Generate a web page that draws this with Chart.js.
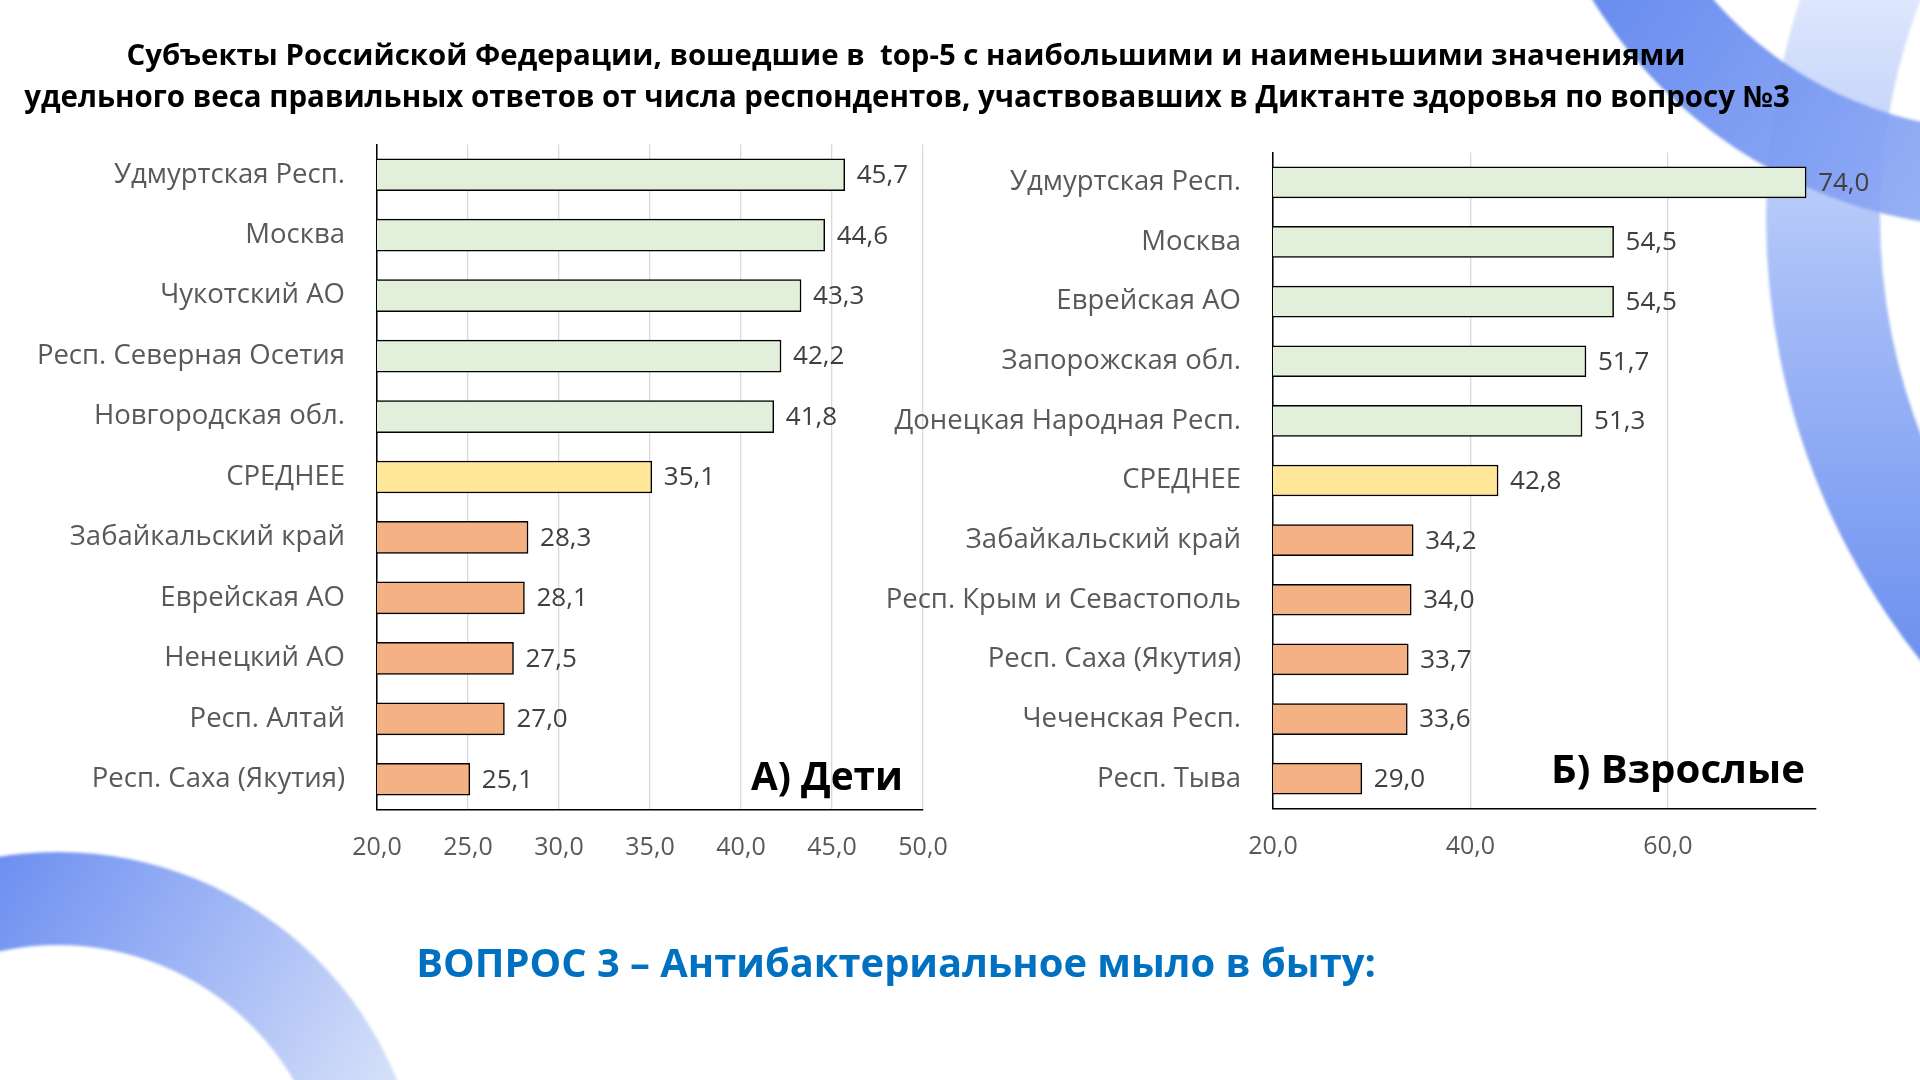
<!DOCTYPE html>
<html lang="ru">
<head>
<meta charset="utf-8">
<script src="https://cdn.jsdelivr.net/npm/chart.js@4.4.1/dist/chart.umd.min.js"></script>
<style>
  body{margin:0;width:1920px;height:1080px;position:relative;overflow:hidden;background:#fff;font-family:"Open Sans",sans-serif}
  #decor{position:absolute;left:0;top:0}
  .box{position:absolute}
  .txt{position:absolute;white-space:nowrap;line-height:1;transform:translate(-50%,-50%);font-weight:bold}
</style>
</head>
<body>
<canvas id="decor" width="1920" height="1080"></canvas>

<div class="txt" id="title1" style="left:906px;top:55px;font-size:30px;color:#000">Субъекты Российской Федерации, вошедшие в&nbsp; top-5 с наибольшими и наименьшими значениями</div>
<div class="txt" id="title2" style="left:907px;top:97px;font-size:30px;color:#000">удельного веса правильных ответов от числа респондентов, участвовавших в Диктанте здоровья по вопросу №3</div>

<!-- у оси категорий Chart.js резервирует сверху ~48px (половина строки + padding), поэтому блоки подняты -->
<div class="box" id="boxKids" style="left:0px;top:95.5px;width:983px;height:783.5px"><canvas id="chartKids"></canvas></div>
<div class="box" id="boxAdults" style="left:860px;top:103.5px;width:1060px;height:774.5px"><canvas id="chartAdults"></canvas></div>

<div class="txt" id="capKids" style="left:827px;top:775px;font-size:40px;color:#000">А) Дети</div>
<div class="txt" id="capAdults" style="left:1678px;top:768px;font-size:40px;color:#000">Б) Взрослые</div>

<div class="txt" id="subtitle" style="left:896px;top:962px;font-size:40px;color:#0070C0">ВОПРОС 3 – Антибактериальное мыло в быту:</div>

<script>
// данные: А) Дети
const kidsLabels = ["Удмуртская Респ.", "Москва", "Чукотский АО", "Респ. Северная Осетия", "Новгородская обл.",
  "СРЕДНЕЕ", "Забайкальский край", "Еврейская АО", "Ненецкий АО", "Респ. Алтай", "Респ. Саха (Якутия)"];
const kidsValues = [45.7, 44.6, 43.3, 42.2, 41.8, 35.1, 28.3, 28.1, 27.5, 27.0, 25.1];
const kidsTicks = [20, 25, 30, 35, 40, 45, 50];

// данные: Б) Взрослые
const adultsLabels = ["Удмуртская Респ.", "Москва", "Еврейская АО", "Запорожская обл.", "Донецкая Народная Респ.",
  "СРЕДНЕЕ", "Забайкальский край", "Респ. Крым и Севастополь", "Респ. Саха (Якутия)", "Чеченская Респ.", "Респ. Тыва"];
const adultsValues = [74.0, 54.5, 54.5, 51.7, 51.3, 42.8, 34.2, 34.0, 33.7, 33.6, 29.0];
const adultsTicks = [20, 40, 60];

// цвета: топ-5 зелёные, среднее жёлтое, нижние 5 оранжевые
const barColors = ['#E2EFDA','#E2EFDA','#E2EFDA','#E2EFDA','#E2EFDA','#FFE699',
  '#F4B183','#F4B183','#F4B183','#F4B183','#F4B183'];

function fmt(v){
  return Number(v).toFixed(1).replace('.', ',');
}

// подгоняем ширину заголовков под макет
function fitText(id, w){
  const el = document.getElementById(id);
  const fs = parseFloat(getComputedStyle(el).fontSize);
  const cur = el.getBoundingClientRect().width;
  el.style.fontSize = (fs * w / cur) + 'px';
}
fitText('title1', 1560);
fitText('title2', 1766);
fitText('subtitle', 960);
fitText('capKids', 152);
fitText('capAdults', 254);

// фоновые кольца
function drawDecor(){
  const c = document.getElementById('decor');
  const ctx = c.getContext('2d');
  function ring(cx, cy, R, r, grad, alpha){
    ctx.save();
    ctx.globalAlpha = alpha;
    ctx.filter = 'blur(1.5px)';
    ctx.beginPath();
    ctx.arc(cx, cy, R, 0, Math.PI*2);
    ctx.arc(cx, cy, r, 0, Math.PI*2, true);
    ctx.fillStyle = grad;
    ctx.fill();
    ctx.restore();
  }
  // большое кольцо справа
  let g = ctx.createLinearGradient(0, 0, 0, 680);
  g.addColorStop(0, '#dde6fc');
  g.addColorStop(0.45, '#a2baf6');
  g.addColorStop(1, '#6a8eef');
  ring(2480, 217, 714, 600, g, 1);

  // верхняя дуга
  g = ctx.createLinearGradient(1590, 0, 1920, 220);
  g.addColorStop(0, '#5b83ee');
  g.addColorStop(1, '#8ea9f4');
  ring(2000, -250, 478, 380, g, 0.92);

  // дуга внизу слева
  g = ctx.createLinearGradient(0, 850, 380, 1080);
  g.addColorStop(0, '#6c8ef0');
  g.addColorStop(1, '#d3def9');
  ring(58, 1218, 366, 273, g, 1);
}
drawDecor();

// подписи значений справа от столбцов
const valueLabels = {
  id: 'valueLabels',
  afterDatasetsDraw(chart){
    const ctx = chart.ctx;
    const meta = chart.getDatasetMeta(0);
    ctx.save();
    ctx.font = '26px "Open Sans"';
    ctx.fillStyle = '#404040';
    ctx.textAlign = 'left';
    ctx.textBaseline = 'middle';
    meta.data.forEach(function(bar, i){
      ctx.fillText(fmt(chart.data.datasets[0].data[i]), bar.x + 12, bar.y + 1);
    });
    ctx.restore();
  }
};

function makeChart(id, labels, values, xMin, xMax, xTicks, yAxisWidth, padRight, barT){
  const config = {
    type: 'bar',
    data: {
      labels: labels,
      datasets: [{
        data: values,
        backgroundColor: barColors,
        borderColor: '#000',
        borderWidth: 1.5,
        borderSkipped: false,
        barThickness: barT
      }]
    },
    options: {
      indexAxis: 'y',
      responsive: true,
      maintainAspectRatio: false,
      animation: false,
      layout: { padding: { left: 0, right: padRight, top: 0, bottom: 0 } },
      plugins: {
        legend: { display: false },
        tooltip: { enabled: false }
      },
      scales: {
        x: {
          min: xMin,
          max: xMax,
          afterBuildTicks: function(s){ s.ticks = xTicks.map(v => ({ value: v })); },
          afterFit: function(s){ s.height = 70; },
          grid: { color: '#d9d9d9', lineWidth: 1.3, drawTicks: false },
          border: { display: true, color: '#000', width: 1.5 },
          ticks: {
            padding: 23,
            color: '#595959',
            font: { family: 'Open Sans', size: 25 },
            callback: function(v){ return fmt(v); }
          }
        },
        y: {
          afterFit: function(s){ s.width = yAxisWidth; },
          grid: { display: false, drawTicks: false },
          border: { display: true, color: '#000', width: 1.5 },
          ticks: {
            padding: 32,
            color: '#595959',
            font: { family: 'Open Sans', size: 27.5 }
          }
        }
      }
    },
    plugins: [valueLabels]
  };
  return new Chart(document.getElementById(id), config);
}

makeChart('chartKids', kidsLabels, kidsValues, 20, 50, kidsTicks, 377, 60, 32);
makeChart('chartAdults', adultsLabels, adultsValues, 20, 75, adultsTicks, 413, 104, 31);
</script>
</body>
</html>
